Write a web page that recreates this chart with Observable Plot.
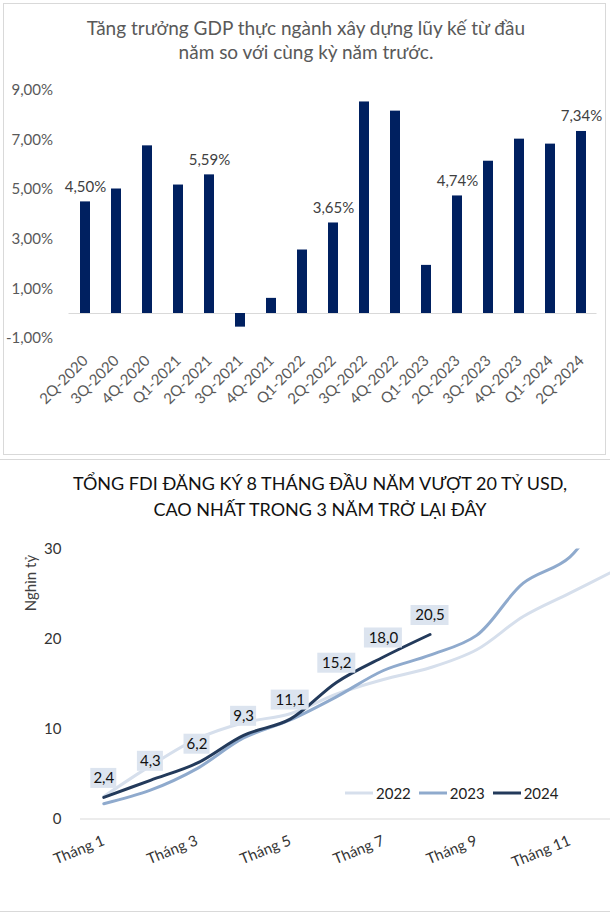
<!DOCTYPE html>
<html>
<head>
<meta charset="utf-8">
<script src="https://cdn.jsdelivr.net/npm/d3@7"></script>
<script src="https://cdn.jsdelivr.net/npm/@observablehq/plot@0.6"></script>
<style>
  body { margin: 0; background: #fff; font-family: Lato, "Open Sans", sans-serif; }
  #wrap { position: relative; width: 610px; height: 919px; overflow: hidden; background: #fff; }
  .abs { position: absolute; }
  .title1 { left: 0; width: 612px; text-align: center; color: #595959; font-size: 19px; line-height: 24px; }
  .title2 { left: 0; width: 640px; text-align: center; color: #111; font-size: 18px; line-height: 26px; }
  .legend { display: flex; align-items: center; font-size: 15px; color: #222; }
  .legend svg { display: block; }
</style>
</head>
<body>
<div id="wrap">
  <div class="abs" style="left:3px;top:3px;width:603px;height:452px;border:1px solid #d9d9d9;box-sizing:border-box;"></div>
  <div class="abs" style="left:0;top:459px;width:610px;height:1px;background:#d9d9d9;"></div>
  <div class="abs" style="left:0;top:911px;width:610px;height:1px;background:#d9d9d9;"></div>
  <div class="abs title1" style="top:16px;">Tăng trưởng GDP thực ngành xây dựng lũy kế từ đầu<br>năm so với cùng kỳ năm trước.</div>
  <div id="top" class="abs" style="left:0;top:70px;"></div>
  <div class="abs title2" style="top:470px;">TỔNG FDI ĐĂNG KÝ 8 THÁNG ĐẦU NĂM VƯỢT 20 TỶ USD,<br>CAO NHẤT TRONG 3 NĂM TRỞ LẠI ĐÂY</div>
  <div id="bottom" class="abs" style="left:0;top:520px;"></div>
  <div class="abs" style="left:30px;top:583px;transform:translate(-50%,-50%) rotate(-90deg);font-size:15px;color:#404040;white-space:nowrap;">Nghìn tỷ</div>
  <div id="legend" class="abs legend" style="left:345px;top:784px;"></div>
</div>
<script>
// ---- Chart 1: GDP growth of construction (cumulative, % y/y) ----
const quarters = ["2Q-2020","3Q-2020","4Q-2020","Q1-2021","2Q-2021","3Q-2021","4Q-2021","Q1-2022","2Q-2022","3Q-2022","4Q-2022","Q1-2023","2Q-2023","3Q-2023","4Q-2023","Q1-2024","2Q-2024"];
const growth = [4.50, 5.02, 6.76, 5.18, 5.59, -0.55, 0.61, 2.56, 3.65, 8.53, 8.16, 1.94, 4.74, 6.14, 7.03, 6.83, 7.34];
const labeledQuarters = ["2Q-2020","2Q-2021","2Q-2022","2Q-2023","2Q-2024"];
const growthTicks = [-1, 1, 3, 5, 7, 9];

// ---- Chart 2: cumulative registered FDI ----
const months = [1,2,3,4,5,6,7,8,9,10,11,12];
const fdi2022 = [2.5, 5.9, 8.9, 10.7, 11.7, 13.9, 15.5, 16.8, 18.8, 22.5, 25.1, 27.7];
const fdi2023 = [1.7, 3.2, 5.6, 9.0, 11.0, 13.6, 16.5, 18.2, 20.4, 26.2, 29.1, 36.6];
const fdi2024 = [2.4, 4.3, 6.2, 9.3, 11.1, 15.2, 18.0, 20.5];
const years = ["2022", "2023", "2024"];
const yearColors = ["#d6dfec", "#8faacd", "#233a5b"];
const monthTicks = [1, 3, 5, 7, 9, 11];
const fdiTicks = [0, 10, 20, 30];

const pct = d => d.toFixed(2).replace(".", ",") + "%";
const dec = d => d.toFixed(1).replace(".", ",");

const gdp = quarters.map((q, i) => ({q, v: growth[i]}));

const chart1 = Plot.plot({
  width: 610, height: 385,
  marginLeft: 68.5, marginRight: 13.5, marginTop: 19.8, marginBottom: 117.2,
  style: {fontFamily: "Lato, sans-serif", color: "#595959", background: "transparent"},
  x: {domain: quarters, paddingInner: 0.68, paddingOuter: 0.34, label: null},
  y: {domain: [-1, 9], label: null},
  marks: [
    Plot.ruleY([0], {stroke: "#d9d9d9", strokeWidth: 1.2}),
    Plot.axisY({ticks: growthTicks, tickFormat: pct, tickSize: 0, tickPadding: 16, fontSize: 15, label: null}),
    Plot.axisX({tickRotate: -45, tickSize: 0, tickPadding: 20, fontSize: 15, label: null}),
    Plot.barY(gdp, {x: "q", y: "v", fill: "#002060"}),
    Plot.text(gdp.filter(d => labeledQuarters.includes(d.q)), {x: "q", y: "v", text: d => pct(d.v), dy: -15, fontSize: 15, fill: "#404040"})
  ]
});
document.getElementById("top").appendChild(chart1);

const series = [fdi2022, fdi2023, fdi2024];
const fdi = series.flatMap((arr, k) => arr.map((v, i) => ({m: months[i], v, year: years[k]})));
const labels2024 = fdi2024.map((v, i) => ({m: months[i], v, t: dec(v)}));

const chart2 = Plot.plot({
  width: 610, height: 360,
  marginLeft: 80, marginRight: 0, marginTop: 28.5, marginBottom: 61.5,
  style: {fontFamily: "Lato, sans-serif", color: "#333", background: "transparent"},
  x: {domain: [0.5, 11.873], label: null},
  y: {domain: [0, 30], label: null},
  color: {domain: years, range: yearColors},
  marks: [
    Plot.ruleY([0], {stroke: "#d9d9d9", strokeWidth: 1.2}),
    Plot.axisY({ticks: fdiTicks, tickSize: 0, tickPadding: 19, fontSize: 15, label: null}),
    Plot.axisX({ticks: monthTicks, tickFormat: d => "Tháng " + d, tickRotate: -22, tickSize: 0, tickPadding: 21, fontSize: 15, label: null}),
    Plot.line(fdi, {x: "m", y: "v", z: "year", stroke: "year", strokeWidth: 3, curve: "catmull-rom", clip: true}),
    Plot.rect(labels2024.filter(d => d.t.length <= 3), {x1: "m", x2: "m", y1: "v", y2: "v", fill: "#dce4ef", insetLeft: -13, insetRight: -13, insetTop: -29, insetBottom: 9}),
    Plot.rect(labels2024.filter(d => d.t.length > 3), {x1: "m", x2: "m", y1: "v", y2: "v", fill: "#dce4ef", insetLeft: -19, insetRight: -19, insetTop: -29, insetBottom: 9}),
    Plot.text(labels2024, {x: "m", y: "v", text: "t", dy: -19, fontSize: 15, fill: "#111"})
  ]
});
document.getElementById("bottom").appendChild(chart2);

// legend
const leg = document.getElementById("legend");
years.forEach((y, i) => {
  const sw = document.createElementNS("http://www.w3.org/2000/svg", "svg");
  sw.setAttribute("width", 28); sw.setAttribute("height", 6);
  sw.style.marginLeft = i === 0 ? "0px" : "8px";
  const ln = document.createElementNS("http://www.w3.org/2000/svg", "line");
  ln.setAttribute("x1", 0); ln.setAttribute("x2", 28); ln.setAttribute("y1", 3); ln.setAttribute("y2", 3);
  ln.setAttribute("stroke", yearColors[i]); ln.setAttribute("stroke-width", 3);
  sw.appendChild(ln);
  const tx = document.createElement("span");
  tx.textContent = y; tx.style.marginLeft = "3px";
  leg.appendChild(sw); leg.appendChild(tx);
});
</script>
</body>
</html>
